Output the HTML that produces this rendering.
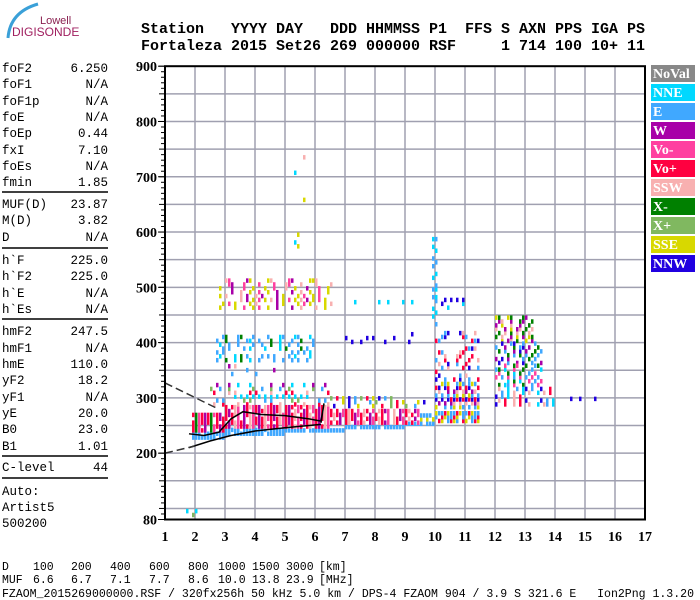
<!DOCTYPE html>
<html><head><meta charset="utf-8">
<style>
body{margin:0;background:#fff;width:700px;height:600px;overflow:hidden}
svg{display:block}
</style></head>
<body>
<svg id="chart" width="700" height="600" viewBox="0 0 700 600">
  <g>
    <path d="M8 38 Q10 12 38 4" stroke="#3aa0d8" stroke-width="3" fill="none"/>
    <text x="40" y="24" font-family="Liberation Sans,sans-serif" font-size="11" fill="#8a2050">Lowell</text>
    <text x="12" y="36" font-family="Liberation Sans,sans-serif" font-size="12" fill="#a02060">DIGISONDE</text>
  </g>
  <g font-family="Liberation Mono,monospace" font-weight="bold" font-size="15" fill="#000">
    <text x="141" y="33" xml:space="preserve" textLength="504">Station   YYYY DAY   DDD HHMMSS P1  FFS S AXN PPS IGA PS</text>
    <text x="141" y="50" xml:space="preserve" textLength="504">Fortaleza 2015 Set26 269 000000 RSF     1 714 100 10+ 11</text>
  </g>
  <g id="params" font-family="Liberation Mono,monospace" font-size="12.5" fill="#000"></g>
  <g id="plot"></g>
  <g id="legend"></g>
  <g id="footer" font-family="Liberation Mono,monospace" font-size="11.5" fill="#000">
    <text x="2" y="597" xml:space="preserve" textLength="692" lengthAdjust="spacingAndGlyphs">FZAOM_2015269000000.RSF / 320fx256h 50 kHz 5.0 km / DPS-4 FZAOM 904 / 3.9 S 321.6 E   Ion2Png 1.3.20</text>
  </g>
</svg>
<script>
const NS="http://www.w3.org/2000/svg";
const paramNames=["foF2","foF1","foF1p","foE","foEp","fxI","foEs","fmin","MUF(D)","M(D)","D","h`F","h`F2","h`E","h`Es","hmF2","hmF1","hmE","yF2","yF1","yE","B0","B1","C-level","Auto:","Artist5","500200"];
const paramValues=["6.250","N/A","N/A","N/A","0.44","7.10","N/A","1.85","23.87","3.82","N/A","225.0","225.0","N/A","N/A","247.5","N/A","110.0","18.2","N/A","20.0","23.0","1.01","44","","",""];
const paramRowY=[72,88,105,121,137,154,170,186,208,224,241,264,280,297,313,335,352,368,384,401,417,433,450,471,495,511,527];
const sepY=[192,248,319,456,478];

const xTicks=[1,2,3,4,5,6,7,8,9,10,11,12,13,14,15,16,17];
const yTickLabels=[80,200,300,400,500,600,700,800,900];
const legendNames=["NoVal","NNE","E","W","Vo-","Vo+","SSW","X-","X+","SSE","NNW"];
const legendColors=["#888888","#00d8ff","#40a8ff","#a800a8","#ff40a0","#ff0040","#f8b0b0","#008000","#80b860","#d8d800","#2000e0"];

const distLabels=["100","200","400","600","800","1000","1500","3000","[km]"];
const mufLabels=["6.6","6.7","7.1","7.7","8.6","10.0","13.8","23.9","[MHz]"];
const footX=[33,71,110,149,188,218,252,286,319];

// clusters: freq start, freq end (MHz), height low, height high (km), density, classes
const clusterF0=[1.9,3.0,5.0,7.0,9.0,10.0, 1.9,3.0,6.5,9.5, 2.5,6.5, 2.7,2.8,3.0, 6.8,7.2, 9.9,10.0,10.0,10.2, 12.0,12.0,12.0,12.0,14.0, 1.7,5.3];
const clusterF1=[3.0,5.0,7.0,9.0,10.0,11.5, 3.0,6.5,9.5,10.0, 6.5,9.8, 6.0,6.6,4.8, 9.3,9.4, 10.1,11.5,11.5,11.2, 13.3,13.6,13.6,14.0,15.6, 2.2,5.8];
const clusterH0=[225,232,238,244,250,255, 238,245,252,258, 285,282, 365,460,340, 398,470, 430,330,280,460, 400,360,320,285,295, 85,550];
const clusterH1=[236,244,248,254,258,275, 275,285,282,275, 330,300, 415,515,360, 418,478, 600,420,330,480, 450,400,360,320,305, 100,740];
const clusterDensity=[0.9,0.9,0.9,0.9,0.9,0.8, 0.8,0.8,0.7,0.6, 0.25,0.3, 0.3,0.3,0.15, 0.15,0.2, 0.4,0.3,0.6,0.2, 0.5,0.4,0.4,0.4,0.25, 0.4,0.05];
const clusterClasses=["E","E","E","E","E","E,E,SSE,Vo+",
 "Vo+,Vo-,W,X-,Vo+","Vo+,Vo+,Vo-,W,SSW","Vo+,Vo+,Vo-,SSW,W","SSE,Vo+,E",
 "Vo+,W,X+,SSW,NNE,E","X+,Vo+,SSE,NNW,E",
 "E,E,E,NNE,X-","SSE,SSW,W,SSE,Vo-","Vo+,W,E,SSW",
 "NNW","NNE",
 "NNE,E","NNW,E,Vo+,SSW","SSE,Vo+,W,E,NNW,SSW","NNE,NNW",
 "W,X-,SSE,SSW","E,W,X-,NNW","E,NNE,Vo-,X-","NNW,E,NNE,SSW,Vo+","NNW,E,NNE",
 "X+,Vo-,NNE","SSE,SSW,NNE"];

const lowerTraceF=[1.8,2.5,3.2,4.0,5.0,6.2];
const lowerTraceH=[210,222,232,240,246,252];
const upperTraceF=[1.8,2.3,2.8,3.2,3.6,4.2,5.0,5.8,6.2,6.3,6.2];
const upperTraceH=[235,232,238,262,275,270,268,262,258,290,255];
const dashHighF=[1.0,2.7];
const dashHighH=[327,282];
const dashLowF=[1.0,2.0];
const dashLowH=[200,213];

const PX0=165,PX1=645,PY0=66.2,PY1=519.5;
const xs=f=>PX0+(f-1)*(PX1-PX0)/16;
const ys=h=>PY1-(h-80)*(PY1-PY0)/820;
function mk(tag,attrs,parent){const e=document.createElementNS(NS,tag);for(const k in attrs)e.setAttribute(k,attrs[k]);parent.appendChild(e);return e;}

const params=document.getElementById('params');
paramNames.forEach((n,i)=>{
  const t=mk('text',{x:2,y:paramRowY[i]},params);t.textContent=n;
  
  
  if(paramValues[i]){const v=mk('text',{x:108,y:paramRowY[i],'text-anchor':'end'},params);v.textContent=paramValues[i];
  
  }
});
sepY.forEach(y=>{const l=mk('line',{x1:2,x2:108,y1:y,y2:y,stroke:'#000','stroke-width':1.5},params);
  
  });

const footer=document.getElementById('footer');
[["D",distLabels,570],["MUF",mufLabels,583]].forEach(([lab,arr,y])=>{
  const t=mk('text',{x:2,y:y},footer);t.textContent=lab;
  
  
  arr.forEach((s,i)=>{const u=mk('text',{x:footX[i],y:y},footer);u.textContent=s;
    
    });
});

const plot=document.getElementById('plot');
const grid=mk('g',{stroke:'#a0a0b0','stroke-width':1.5},plot);


for(let h=100;h<900;h+=50){mk('line',{x1:PX0,x2:PX1,y1:ys(h),y2:ys(h)},grid);}
xTicks.forEach(f=>{if(f>1&&f<17)mk('line',{x1:xs(f),x2:xs(f),y1:PY0,y2:PY1},grid);});

const clip=mk('clipPath',{id:'pc'},plot);mk('rect',{x:PX0,y:PY0,width:PX1-PX0,height:PY1-PY0},clip);
const marks=mk('g',{'clip-path':'url(#pc)'},plot);


const cmap={};legendNames.forEach((n,i)=>cmap[n]=legendColors[i]);
clusterF0.forEach((f0,k)=>{
  const cls=clusterClasses[k].split(',');
  const d=clusterDensity[k];
  const nf=Math.max(1,Math.round((clusterF1[k]-f0)/0.1));
  const nh=Math.max(1,Math.round((clusterH1[k]-clusterH0[k])/7));
  for(let i=0;i<nf;i++)for(let j=0;j<nh;j++){
    const v=((i*37+j*61+k*17+i*j*7)%100)/100;
    if(v>=d)continue;
    const f=f0+i*0.1, h=clusterH0[k]+j*7;
    mk('rect',{x:xs(f),y:ys(h)-4,width:2.5,height:4.5,fill:cmap[cls[(i*3+j*5)%cls.length]]},marks);
  }
});

function polyline(F,H,attrs,name){
  const p=mk('polyline',Object.assign({points:F.map((f,i)=>xs(f)+','+ys(H[i])).join(' '),fill:'none'},attrs),plot);
  
  
}
polyline(lowerTraceF,lowerTraceH,{stroke:'#000','stroke-width':1.5},'lower-trace');
polyline(upperTraceF,upperTraceH,{stroke:'#000','stroke-width':1.5},'upper-trace');
polyline(dashHighF,dashHighH,{stroke:'#333','stroke-width':1.5,'stroke-dasharray':'8,4'},'dashed-high');
polyline(dashLowF,dashLowH,{stroke:'#333','stroke-width':1.5,'stroke-dasharray':'8,4'},'dashed-low');

const border=mk('rect',{x:PX0,y:PY0,width:PX1-PX0,height:PY1-PY0,fill:'none',stroke:'#000','stroke-width':2},plot);


const yax=mk('g',{stroke:'#000','stroke-width':1},plot);


for(let h=80;h<=900;h+=10){const L=(h%50===0)?6:4;mk('line',{x1:PX0-L,x2:PX0,y1:ys(h),y2:ys(h)},yax);}
yTickLabels.forEach(h=>{mk('line',{x1:PX0-7,x2:PX0,y1:ys(h),y2:ys(h)},yax);
  const t=mk('text',{x:PX0-8,y:ys(h)+5,'text-anchor':'end','font-family':'Liberation Serif,serif','font-weight':'bold','font-size':14,stroke:'none',fill:'#000'},yax);
  t.textContent=h;
  
  });
xTicks.forEach(f=>{const t=mk('text',{x:xs(f),y:541,'text-anchor':'middle','font-family':'Liberation Serif,serif','font-weight':'bold','font-size':14,fill:'#000'},plot);
  t.textContent=f;
  
  });

const lg=document.getElementById('legend');
legendNames.forEach((n,i)=>{
  const y=65+i*19;
  const r=mk('rect',{x:651,y:y,width:44,height:17,fill:legendColors[i]},lg);
  
  
  const t=mk('text',{x:653,y:y+13,'font-family':'Liberation Serif,serif','font-weight':'bold','font-size':14,fill:'#fff'},lg);
  t.textContent=n;
  
  
});
</script>
</body></html>
